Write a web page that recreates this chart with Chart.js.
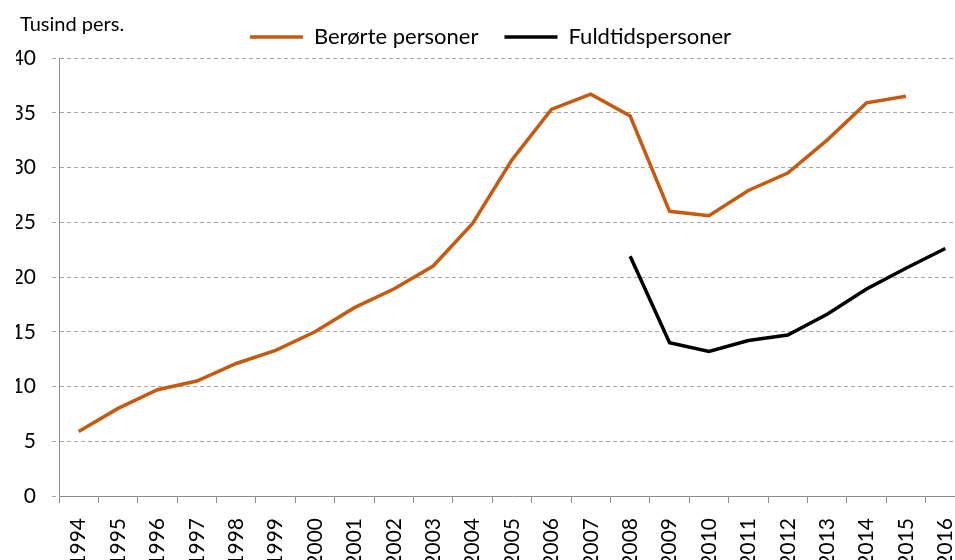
<!DOCTYPE html>
<html lang="da">
<head>
  <meta charset="UTF-8" />
  <title>Berørte personer og fuldtidspersoner</title>
  <script src="https://cdn.jsdelivr.net/npm/chart.js"></script>
  <style>
    html, body { margin: 0; padding: 0; background: #fff; overflow: hidden; }
    #wrap { position: relative; width: 955px; height: 560px; overflow: hidden; }
    #chart { position: absolute; left: 0; top: 0; }
  </style>
</head>
<body>
  <div id="wrap">
    <canvas id="chart" width="990" height="580"></canvas>
  </div>

  <script>
    const years = ["1994", "1995", "1996", "1997", "1998", "1999", "2000", "2001", "2002", "2003", "2004",
                   "2005", "2006", "2007", "2008", "2009", "2010", "2011", "2012", "2013", "2014", "2015", "2016"];

    // Tusind personer
    const beroerte = [5.9, 8.0, 9.7, 10.5, 12.1, 13.3, 15.0, 17.2, 18.9, 21.0, 24.9,
                      30.7, 35.3, 36.7, 34.7, 26.0, 25.6, 27.9, 29.5, 32.5, 35.9, 36.5, null];
    const fuldtid = [null, null, null, null, null, null, null, null, null, null, null,
                     null, null, null, 21.9, 14.0, 13.2, 14.2, 14.7, 16.6, 18.9, 20.8, 22.6];

    const yTicks = [0, 5, 10, 15, 20, 25, 30, 35, 40];
    const unitLabel = "Tusind pers.";

    const font = "Lato, 'Open Sans', sans-serif";
    const gridGrey = "#a6a6a6";
    const axisGrey = "#8c8c8c";

    // unit text above the y axis
    const unitPlugin = {
      id: "unitText",
      afterDraw(chart) {
        const c = chart.ctx;
        c.save();
        c.font = "20px " + font;
        c.fillStyle = "#000";
        c.textAlign = "left";
        c.textBaseline = "middle";
        c.fillText(unitLabel, 20, 25);
        c.restore();
      }
    };

    const ctx = document.getElementById("chart").getContext("2d");
    new Chart(ctx, {
      type: "line",
      data: {
        labels: years,
        datasets: [
          {
            label: "Berørte personer",
            data: beroerte,
            borderColor: "#C55A11",
            backgroundColor: "#C55A11",
            borderWidth: 3.5,
            pointRadius: 0,
            tension: 0
          },
          {
            label: "Fuldtidspersoner",
            data: fuldtid,
            borderColor: "#000000",
            backgroundColor: "#000000",
            borderWidth: 3.5,
            pointRadius: 0,
            tension: 0
          }
        ]
      },
      options: {
        responsive: false,
        animation: false,
        layout: { padding: { top: 0, right: 25, bottom: 0, left: 16 } },
        plugins: {
          legend: {
            position: "top",
            labels: {
              usePointStyle: true,
              pointStyle: "line",
              pointStyleWidth: 53,
              padding: 26,
              color: "#000",
              font: { family: font, size: 22 }
            }
          },
          tooltip: { enabled: false }
        },
        scales: {
          x: {
            offset: true,
            afterFit: s => { s.height = 84; },
            grid: {
              offset: true,
              drawOnChartArea: false,
              drawTicks: true,
              tickLength: 7,
              color: axisGrey
            },
            border: { color: axisGrey, width: 1 },
            ticks: {
              autoSkip: false,
              minRotation: 90,
              maxRotation: 90,
              padding: 15,
              color: "#000",
              font: { family: font, size: 21 }
            }
          },
          y: {
            min: 0,
            max: 40,
            afterFit: s => { s.width = 43; },
            afterBuildTicks: s => { s.ticks = yTicks.map(v => ({ value: v })); },
            grid: {
              color: gridGrey,
              tickLength: 7,
              tickBorderDash: [4, 3]
            },
            border: { color: axisGrey, width: 1, dash: [4, 3] },
            ticks: {
              padding: 16,
              color: "#000",
              font: { family: font, size: 21 }
            }
          }
        }
      },
      plugins: [unitPlugin]
    });
  </script>
</body>
</html>
